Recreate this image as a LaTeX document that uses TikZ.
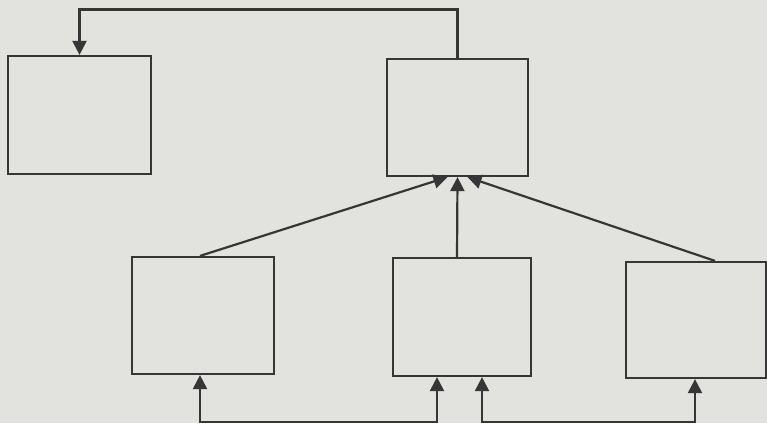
\documentclass[tikz,border=0pt]{standalone}
\usetikzlibrary{arrows.meta}
\definecolor{paper}{HTML}{E2E2DF}
\definecolor{ink}{HTML}{363636}
\begin{document}
\begin{tikzpicture}[x=1pt,y=-1pt,
  box/.style={draw=ink,line width=2.2pt,rectangle,inner sep=0pt},
  conn/.style={draw=ink,line width=2.2pt},
  tip/.style={},
  arr/.style={conn,-{Triangle[length=14pt,width=14pt]}},
  both/.style={conn,{Triangle[length=14pt,width=14pt]}-{Triangle[length=14pt,width=14pt]}}]
\fill[paper] (0,0) rectangle (767,423);
\useasboundingbox (0,0) rectangle (767,423);
\node[box,minimum width=143pt,minimum height=118pt] (A) at (79.5,115) {};
\node[box,minimum width=141pt,minimum height=117pt] (B) at (457.5,117.5) {};
\node[box,minimum width=142pt,minimum height=117pt] (C) at (203,315.5) {};
\node[box,minimum width=138pt,minimum height=118pt] (D) at (462,317) {};
\node[box,minimum width=140pt,minimum height=116pt] (E) at (696,320) {};
% top feedback
\draw[arr] (B.north) -- ++(0,-48.5) -| (A.north);
% converging arrows into B
\draw[arr] ([xshift=-3pt]C.north) -- ([xshift=-10pt]B.south);
\draw[arr] ([xshift=-5pt]D.north) -- ([xshift=0pt]B.south);
\draw[arr] ([xshift=19pt]E.north) -- ([xshift=10pt]B.south);
% bottom loops
\draw[both] ([xshift=-3pt]C.south) -- ++(0,47) -| ([xshift=-25pt]D.south);
\draw[both] ([xshift=20pt]D.south) -- ++(0,45) -| ([xshift=-1pt]E.south);
\end{tikzpicture}
\end{document}
